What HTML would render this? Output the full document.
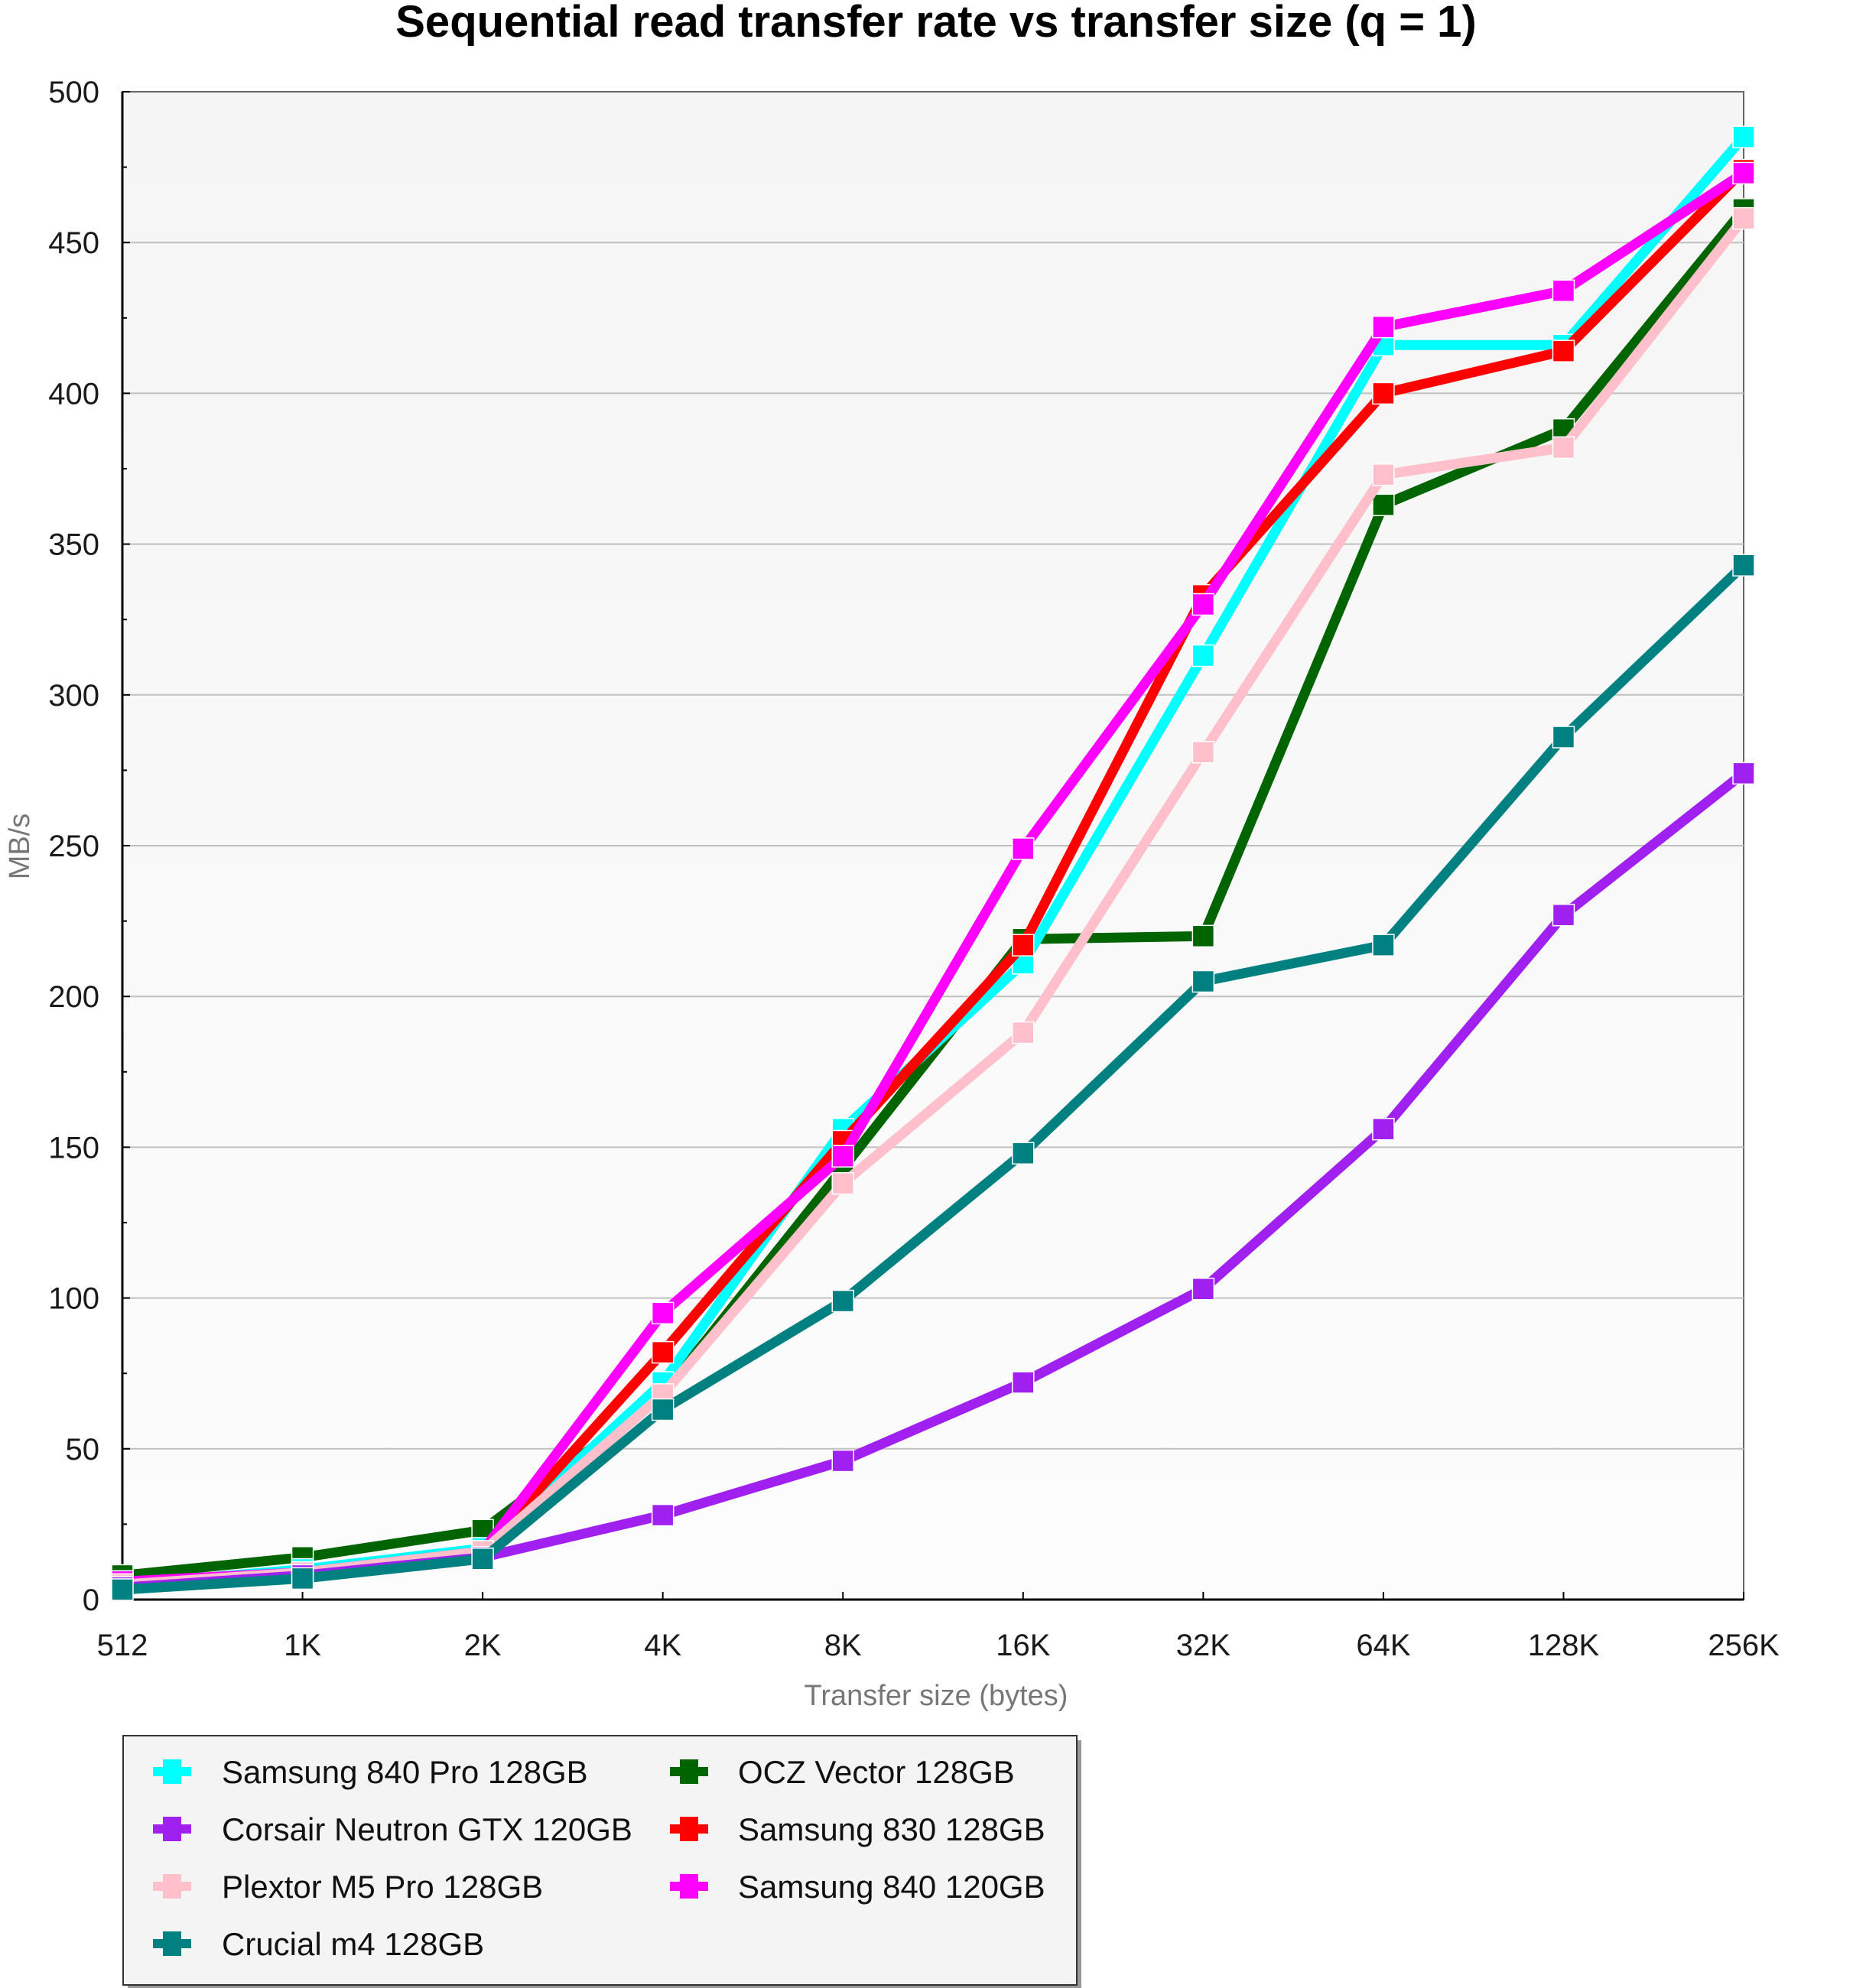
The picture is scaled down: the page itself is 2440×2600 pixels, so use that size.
<!DOCTYPE html>
<html><head><meta charset="utf-8"><style>html,body{margin:0;padding:0;background:#fff}svg{display:block}</style></head>
<body>
<svg xmlns="http://www.w3.org/2000/svg" width="2440" height="2600" viewBox="0 0 2440 2600" font-family="Liberation Sans, Arial, sans-serif">
<defs>
<linearGradient id="bg" x1="0" y1="0" x2="0" y2="1"><stop offset="0" stop-color="#f5f5f5"/><stop offset="1" stop-color="#fcfcfc"/></linearGradient>
</defs>
<text x="1224" y="48" font-size="58" font-weight="bold" text-anchor="middle" fill="#000">Sequential read transfer rate vs transfer size (q = 1)</text>
<rect x="160" y="120" width="2120" height="1972" fill="url(#bg)" stroke="#666" stroke-width="2"/>
<g id="grid" stroke="#c0c0c0" stroke-width="2"></g>
<g id="axes"></g>
<g id="series"></g>
<text x="1224" y="2230" font-size="38" text-anchor="middle" fill="#777">Transfer size (bytes)</text>
<text transform="translate(38,1107) rotate(-90)" font-size="38" text-anchor="middle" fill="#777">MB/s</text>
<rect x="167" y="2276" width="1247" height="326" fill="#999"/>
<rect x="161" y="2270" width="1247" height="326" fill="#f4f4f4" stroke="#333" stroke-width="2"/>
<g id="legend" font-size="42" fill="#111"></g>
<script>
var NS="http://www.w3.org/2000/svg";
function el(t,a,p){var e=document.createElementNS(NS,t);for(var k in a)e.setAttribute(k,a[k]);p.appendChild(e);return e;}
function X(i){return 160+i*235.56;}
function Y(v){return 2092-v*3.944;}
var grid=document.getElementById('grid'),axes=document.getElementById('axes');
for(var v=50;v<=450;v+=50){el('line',{x1:160,x2:2280,y1:Y(v),y2:Y(v)},grid);}
el('line',{x1:160,x2:160,y1:120,y2:2092,stroke:'#000','stroke-width':3},axes);
el('line',{x1:160,x2:2280,y1:2092,y2:2092,stroke:'#000','stroke-width':3},axes);
for(var v=0;v<=500;v+=25){el('line',{x1:160,x2:v%50?166:170,y1:Y(v),y2:Y(v),stroke:'#000','stroke-width':2},axes);
 if(v%50==0){var t=el('text',{x:130,y:Y(v)+14,'font-size':40,'text-anchor':'end',fill:'#1a1a1a'},axes);t.textContent=v;}}
var xl=['512','1K','2K','4K','8K','16K','32K','64K','128K','256K'];
for(var i=0;i<10;i++){el('line',{x1:X(i),x2:X(i),y1:2092,y2:2082,stroke:'#000','stroke-width':2},axes);
 var t=el('text',{x:X(i),y:2165,'font-size':40,'text-anchor':'middle',fill:'#1a1a1a'},axes);t.textContent=xl[i];}
var S={
cyan:['#00ffff',[5,10,17,72,156,211,313,416,416,485]],
purple:['#a020f0',[4,8,14,28,46,72,103,156,227,274]],
pink:['#ffc0cb',[5,9,16,68,138,188,281,373,382,458]],
teal:['#008080',[3.3,7,13.5,63,99,148,205,217,286,343]],
green:['#006400',[8,14,23,68,143,219,220,363,388,461]],
red:['#ff0000',[5,9,16,82,152,217,333,400,414,474]],
mag:['#ff00ff',[6,9,16,95,147,249,330,422,434,473]]};
var order=['green','cyan','red','mag','pink','purple','teal'];
var sg=document.getElementById('series');
order.forEach(function(k){var c=S[k][0],d=S[k][1];var pts=d.map(function(v,i){return X(i)+','+Y(v)}).join(' ');
 el('polyline',{points:pts,fill:'none',stroke:c,'stroke-width':13,'stroke-linejoin':'miter'},sg);
 d.forEach(function(v,i){el('rect',{x:X(i)-14,y:Y(v)-14,width:28,height:28,fill:c,stroke:'#fff','stroke-width':1.5},sg);});});
var lg=document.getElementById('legend');
var L=[['Samsung 840 Pro 128GB','#00ffff',0,0],['Corsair Neutron GTX 120GB','#a020f0',0,1],['Plextor M5 Pro 128GB','#ffc0cb',0,2],['Crucial m4 128GB','#008080',0,3],
['OCZ Vector 128GB','#006400',1,0],['Samsung 830 128GB','#ff0000',1,1],['Samsung 840 120GB','#ff00ff',1,2]];
L.forEach(function(e){var mx=e[2]?901:225,tx=e[2]?965:290,y=2317+e[3]*75;
 el('rect',{x:mx-25,y:y-6,width:50,height:12,fill:e[1]},lg);
 el('rect',{x:mx-12,y:y-16,width:24,height:32,fill:e[1]},lg);
 var t=el('text',{x:tx,y:y+15},lg);t.textContent=e[0];});
</script>
</svg>
</body></html>
